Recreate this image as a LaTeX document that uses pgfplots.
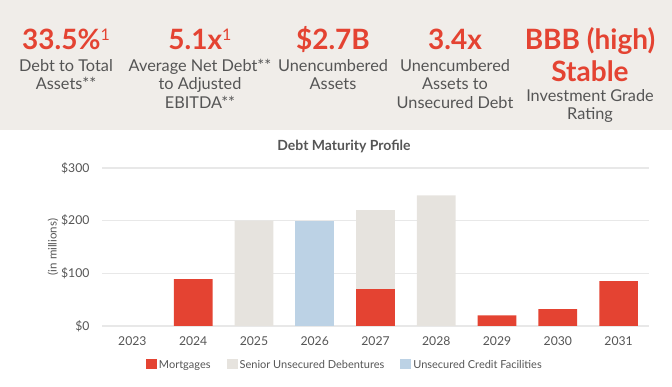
\documentclass[border=0pt]{standalone}
\usepackage{pgfplots}
\pgfplotsset{compat=1.18}
\usepackage{fontspec}
\setmainfont{Lato}
\definecolor{panel}{RGB}{240,237,233}
\definecolor{accent}{RGB}{228,67,50}
\definecolor{txt}{RGB}{85,85,85}
\definecolor{beigebar}{RGB}{230,227,222}
\definecolor{bluebar}{RGB}{188,210,229}
\definecolor{gridc}{RGB}{232,232,232}
\newcommand{\bignum}[1]{{\fontsize{28}{28}\selectfont\bfseries #1}}
\newcommand{\supone}{\raisebox{9pt}{\fontsize{16}{16}\selectfont 1}}
\begin{document}
\begin{tikzpicture}[x=1pt,y=1pt]
\useasboundingbox (0,0) rectangle (672,387);
\fill[panel] (0,257) rectangle (672,387);
\tikzset{bignode/.style={anchor=base,inner sep=0pt,text=accent},
         sub/.style={anchor=base,inner sep=0pt,text=txt,font=\fontsize{16.3}{16.3}\selectfont}}
\node[bignode] at (66,337) {\bignum{33.5\%}\supone};
\node[sub] at (66,315.3) {Debt to Total};
\node[sub] at (66,297) {Assets**};
\node[bignode] at (200,337) {\bignum{5.1x}\supone};
\node[sub] at (200,315.3) {Average Net Debt**};
\node[sub] at (200,297) {to Adjusted};
\node[sub] at (200,278.7) {EBITDA**};
\node[bignode] at (333,337) {\bignum{\$2.7B}};
\node[sub] at (333,315.3) {Unencumbered};
\node[sub] at (333,297) {Assets};
\node[bignode] at (455,337) {\bignum{3.4x}};
\node[sub] at (455,315.3) {Unencumbered};
\node[sub] at (455,297) {Assets to};
\node[sub] at (455,278.7) {Unsecured Debt};
\node[bignode] at (590,337) {\bignum{BBB (high)}};
\node[bignode] at (590,305.3) {\bignum{Stable}};
\node[sub] at (590,285.3) {Investment Grade};
\node[sub] at (590,267.3) {Rating};
\node[anchor=base,inner sep=0pt,text=txt,font=\fontsize{14}{14}\selectfont\bfseries] at (344,236) {Debt Maturity Profile};
\begin{axis}[
  at={(102pt,61pt)}, anchor=south west, scale only axis,
  width=547pt, height=158pt,
  ymin=0, ymax=300, xmin=-0.5, xmax=8.5,
  ybar stacked, bar width=38.7pt,
  ytick={0,100,200,300}, yticklabels={\$0,\$100,\$200,\$300},
  xtick={0,...,8}, xticklabels={2023,2024,2025,2026,2027,2028,2029,2030,2031},
  axis line style={draw=none}, major tick length=0pt,
  ymajorgrids, grid style={color=gridc, line width=1.2pt},
  tick label style={text=txt, font=\fontsize{12.2}{12.2}\selectfont},
  xticklabel style={yshift=-7pt},
  yticklabel style={xshift=-9pt},
  ylabel={(in millions)}, ylabel style={text=txt, font=\fontsize{11.5}{11.5}\selectfont, yshift=-4pt},
  legend columns=3,
  legend style={at={(0.444,-0.247)}, anchor=center, draw=none, fill=none,
    font=\fontsize{11}{11}\selectfont, text=txt,
    /tikz/every even column/.append style={column sep=14pt}},
  legend image code/.code={\fill[#1] (0pt,-4pt) rectangle (11pt,6pt);},
]
\addplot[fill=accent, draw=none] coordinates {(0,0) (1,89) (2,0) (3,0) (4,70) (5,0) (6,20) (7,32) (8,85)};
\addplot[fill=beigebar, draw=none] coordinates {(0,0) (1,0) (2,200) (3,0) (4,150) (5,248) (6,0) (7,0) (8,0)};
\addplot[fill=bluebar, draw=none] coordinates {(0,0) (1,0) (2,0) (3,200) (4,0) (5,0) (6,0) (7,0) (8,0)};
\legend{Mortgages, Senior Unsecured Debentures, Unsecured Credit Facilities}
\end{axis}
\end{tikzpicture}
\end{document}
